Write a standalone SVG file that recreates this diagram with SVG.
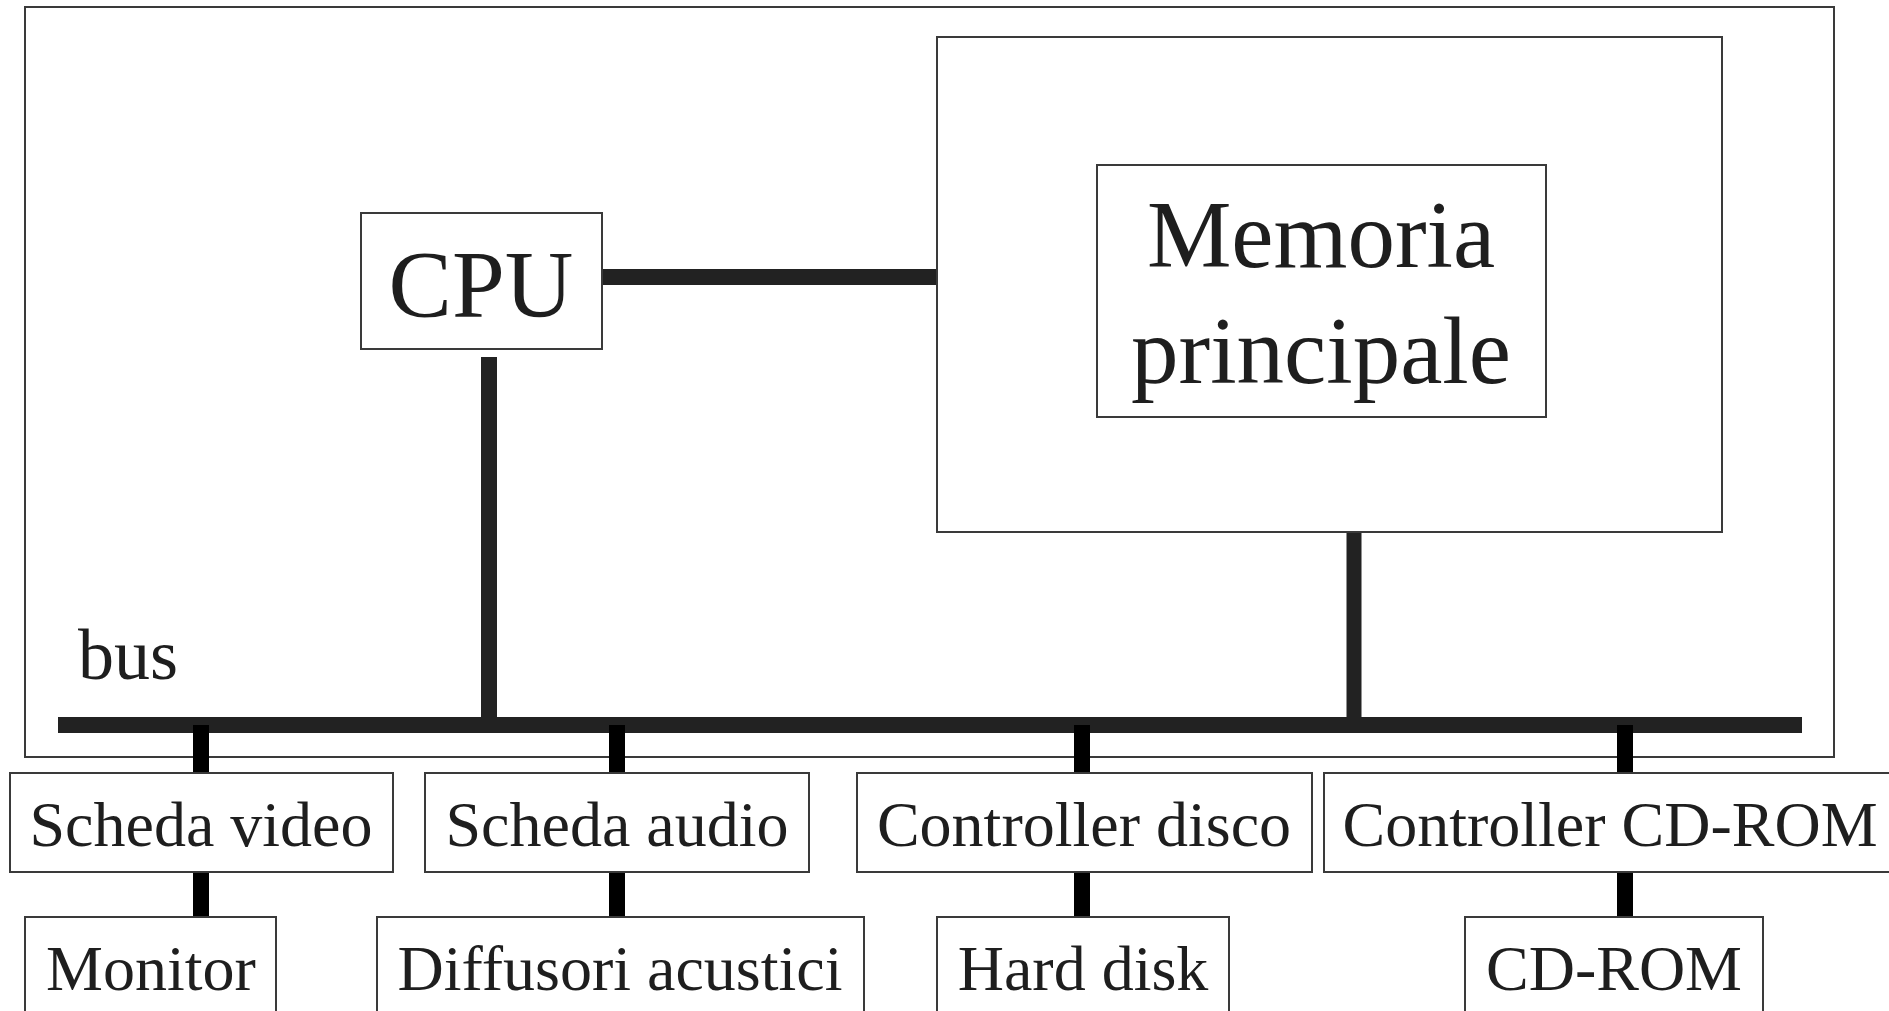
<svg xmlns="http://www.w3.org/2000/svg" width="1889" height="1011" viewBox="0 0 1889 1011">
  <style>
    .box { fill: #ffffff; stroke: #3a3a3a; stroke-width: 2; }
    .frame { fill: none; stroke: #3a3a3a; stroke-width: 2; }
    .lbl { font-family: "Liberation Serif", "Times New Roman", serif; fill: #1e1e1e; text-anchor: middle; }
    .big { font-size: 95px; }
    .small { font-size: 64px; }
    .wire { stroke: #222222; stroke-width: 16; fill: none; }
    .stub { stroke: #000000; stroke-width: 16; fill: none; }
  </style>
  <rect width="1889" height="1011" fill="#ffffff"/>

  <!-- system enclosure -->
  <rect id="system" class="frame" x="25" y="7" width="1809" height="750"/>

  <!-- connectors -->
  <g id="connectors">
    <line class="wire" x1="601" y1="277" x2="938" y2="277"/>
    <line class="wire" x1="489" y1="357" x2="489" y2="725"/>
    <line class="wire" x1="1354" y1="532" x2="1354" y2="725" style="stroke-width:15"/>
    <line id="bus-line" class="wire" x1="58" y1="725" x2="1802" y2="725"/>
    <line class="stub" x1="201" y1="725" x2="201" y2="773"/>
    <line class="stub" x1="617" y1="725" x2="617" y2="773"/>
    <line class="stub" x1="1082" y1="725" x2="1082" y2="773"/>
    <line class="stub" x1="1625" y1="725" x2="1625" y2="773"/>
    <line class="stub" x1="201" y1="872" x2="201" y2="917"/>
    <line class="stub" x1="617" y1="872" x2="617" y2="917"/>
    <line class="stub" x1="1082" y1="872" x2="1082" y2="917"/>
    <line class="stub" x1="1625" y1="872" x2="1625" y2="917"/>
  </g>

  <g id="cpu">
    <rect class="box" x="361" y="213" width="241" height="136"/>
    <text class="lbl big" x="481" y="317">CPU</text>
  </g>

  <g id="memoria">
    <rect class="frame" x="937" y="37" width="785" height="495"/>
    <rect class="box" x="1097" y="165" width="449" height="252"/>
    <text class="lbl big" x="1321" y="267">Memoria</text>
    <text class="lbl big" x="1321" y="383">principale</text>
  </g>

  <g id="bus">
    <text class="lbl" x="78" y="679" style="font-size:72px;text-anchor:start">bus</text>
  </g>

  <g id="scheda-video">
    <rect class="box" x="10" y="773" width="383" height="99"/>
    <text class="lbl small" x="201" y="846">Scheda video</text>
  </g>
  <g id="scheda-audio">
    <rect class="box" x="425" y="773" width="384" height="99"/>
    <text class="lbl small" x="617" y="846">Scheda audio</text>
  </g>
  <g id="controller-disco">
    <rect class="box" x="857" y="773" width="455" height="99"/>
    <text class="lbl small" x="1084" y="846">Controller disco</text>
  </g>
  <g id="controller-cdrom">
    <rect class="box" x="1324" y="773" width="600" height="99"/>
    <text class="lbl small" x="1610" y="846">Controller CD-ROM</text>
  </g>

  <g id="monitor">
    <rect class="box" x="25" y="917" width="251" height="110"/>
    <text class="lbl small" x="151" y="990">Monitor</text>
  </g>
  <g id="diffusori">
    <rect class="box" x="377" y="917" width="487" height="110"/>
    <text class="lbl small" x="620" y="990">Diffusori acustici</text>
  </g>
  <g id="hard-disk">
    <rect class="box" x="937" y="917" width="292" height="110"/>
    <text class="lbl small" x="1083" y="990">Hard disk</text>
  </g>
  <g id="cdrom">
    <rect class="box" x="1465" y="917" width="298" height="110"/>
    <text class="lbl small" x="1614" y="990">CD-ROM</text>
  </g>
</svg>
